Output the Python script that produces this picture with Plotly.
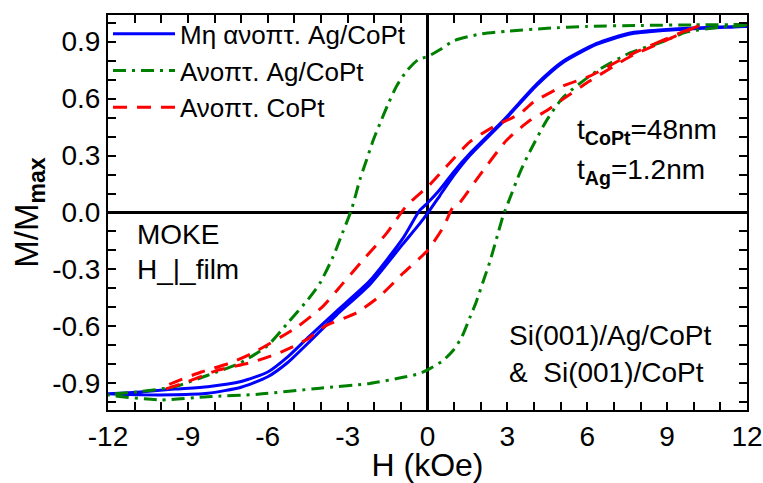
import plotly.graph_objects as go

# ---- data ----
# Non-annealed Ag/CoPt (blue): descending and ascending branches
blue_H_down = [12, 10, 8.84, 7.6, 6.35, 5.09, 4.09, 2.84, 1.59, 0.96, 0.46, 0, -0.3, -0.92, -2.17, -3.42, -4.5, -5.25, -6, -7, -8.25, -9.5, -10.8, -12]
blue_M_down = [0.98, 0.972, 0.962, 0.945, 0.89, 0.796, 0.675, 0.484, 0.31, 0.21, 0.12, 0.05, 0.01, -0.135, -0.36, -0.52, -0.66, -0.76, -0.84, -0.89, -0.917, -0.93, -0.945, -0.955]
blue_H_up = [-12, -10.8, -9.5, -8.25, -7, -6, -5.25, -4.5, -3.42, -2.17, -0.92, -0.3, 0, 0.46, 0.96, 1.59, 2.84, 4.09, 5.09, 6.35, 7.6, 8.84, 10, 12]
blue_M_up = [-0.955, -0.96, -0.96, -0.952, -0.92, -0.865, -0.79, -0.69, -0.54, -0.38, -0.165, -0.06, -0.005, 0.088, 0.19, 0.30, 0.478, 0.668, 0.79, 0.885, 0.94, 0.958, 0.968, 0.98]

# Annealed Ag/CoPt (green)
green_H_down = [12, 10, 8, 6, 4.5, 3, 2, 1, 0.46, 0.02, -0.35, -0.79, -1.16, -1.48, -1.79, -2.04, -2.29, -2.54, -2.85, -3.2, -3.55, -4.04, -4.5, -5.24, -6.0, -7.0, -8.25, -9.5, -10.77, -12]
green_M_down = [0.99, 0.988, 0.985, 0.98, 0.97, 0.955, 0.94, 0.905, 0.857, 0.822, 0.805, 0.744, 0.666, 0.571, 0.467, 0.38, 0.277, 0.173, 0.017, -0.11, -0.234, -0.372, -0.46, -0.58, -0.70, -0.79, -0.857, -0.917, -0.943, -0.96]
green_H_up = [-10, -8.25, -6.37, -4.04, -2.17, -0.92, -0.29, 0.09, 0.59, 0.96, 1.28, 1.59, 1.84, 2.09, 2.34, 2.59, 2.84, 3.03, 3.47, 3.84, 4.47, 5.09, 6.35, 7.6, 8.85, 9.72, 11, 12]
green_M_up = [-0.987, -0.97, -0.957, -0.925, -0.90, -0.868, -0.848, -0.822, -0.779, -0.727, -0.658, -0.554, -0.467, -0.363, -0.26, -0.139, -0.017, 0.052, 0.21, 0.32, 0.484, 0.606, 0.744, 0.84, 0.90, 0.95, 0.975, 0.985]

# Annealed CoPt (red)
red_H_down = [10.2, 8.85, 7.6, 6.09, 5.09, 3.97, 3.47, 2.46, 1.59, 0.71, 0.09, -0.79, -1.54, -2.42, -3.17, -3.9, -4.87, -6.5, -7.37, -8.5, -9.75, -9.9]
red_M_down = [0.985, 0.908, 0.83, 0.718, 0.666, 0.58, 0.52, 0.45, 0.372, 0.242, 0.147, 0.035, -0.11, -0.25, -0.372, -0.49, -0.6, -0.735, -0.79, -0.84, -0.909, -0.925]
red_H_up = [-9.9, -9.0, -7.87, -6.62, -5.5, -4.5, -3.87, -2.67, -1.79, -0.92, 0, 0.59, 0.95, 1.21, 1.84, 2.97, 3.84, 4.47, 5.09, 6.09, 7.6, 8.85, 10.2]
red_M_up = [-0.93, -0.89, -0.83, -0.79, -0.735, -0.666, -0.6, -0.528, -0.44, -0.32, -0.2, -0.078, 0.026, 0.052, 0.173, 0.38, 0.484, 0.536, 0.597, 0.692, 0.82, 0.9, 0.985]

names = ["Μη ανοπτ. Ag/CoPt", "Ανοπτ. Ag/CoPt", "Ανοπτ. CoPt"]

x_ticks = [-12, -9, -6, -3, 0, 3, 6, 9, 12]
y_ticks = [-0.9, -0.6, -0.3, 0.0, 0.3, 0.6, 0.9]
y_ticklabels = ["-0.9", "-0.6", "-0.3", "0.0", "0.3", "0.6", "0.9"]

FONT = "Liberation Sans, Arial, Helvetica, sans-serif"

fig = go.Figure()
fig.add_trace(go.Scatter(x=blue_H_down + blue_H_up, y=blue_M_down + blue_M_up, mode="lines",
                         name=names[0], line=dict(color="#0000ff", width=3, shape="spline", smoothing=0.6)))
fig.add_trace(go.Scatter(x=green_H_down + green_H_up, y=green_M_down + green_M_up, mode="lines",
                         name=names[1], line=dict(color="#008000", width=3, dash="13px,6px,3px,6px",
                                                  shape="spline", smoothing=0.6)))
fig.add_trace(go.Scatter(x=red_H_down + red_H_up, y=red_M_down + red_M_up, mode="lines",
                         name=names[2], line=dict(color="#ff0000", width=3, dash="14px,10px",
                                                  shape="spline", smoothing=0.6)))

axis_common = dict(showline=True, linecolor="black", linewidth=2, mirror="allticks",
                   ticks="inside", ticklen=8, tickwidth=2, tickcolor="black",
                   showgrid=False, zeroline=True, zerolinecolor="black", zerolinewidth=2.5,
                   automargin=False, ticklabeloverflow="allow",
                   tickfont=dict(family=FONT, size=28, color="black"))

fig.update_xaxes(range=[-12, 12], tickvals=x_ticks, ticktext=[str(v) for v in x_ticks],
                 minor=dict(dtick=1, ticks="inside", ticklen=8, tickwidth=2, tickcolor="black", showgrid=False),
                 title=dict(text="H (kOe)", font=dict(family=FONT, size=32, color="black"), standoff=2),
                 **axis_common)
fig.update_yaxes(range=[-1.04, 1.04], tickvals=y_ticks, ticktext=y_ticklabels,
                 minor=dict(dtick=0.1, ticks="inside", ticklen=8, tickwidth=2, tickcolor="black", showgrid=False),
                 title=dict(text="M/M<sub><b>max</b></sub>", font=dict(family=FONT, size=33, color="black"), standoff=4),
                 **axis_common)

ann_font = dict(family=FONT, size=28, color="black")
annotations = [
    dict(x=5.53, y=0.426, text="t<sub><b>CoPt</b></sub>=48nm"),
    dict(x=5.53, y=0.218, text="t<sub><b>Ag</b></sub>=1.2nm"),
    dict(x=-10.99, y=-0.115, text="MOKE"),
    dict(x=-10.99, y=-0.30, text="H_|_film"),
    dict(x=2.97, y=-0.65, text="Si(001)/Ag/CoPt"),
    dict(x=2.97, y=-0.84, text="&amp;  Si(001)/CoPt"),
]
for a in annotations:
    fig.add_annotation(xref="x", yref="y", showarrow=False, xanchor="left", yanchor="middle",
                       font=ann_font, **a)

fig.update_layout(
    width=763, height=483,
    margin=dict(l=108, r=16, t=10, b=73),
    paper_bgcolor="white", plot_bgcolor="white",
    font=dict(family=FONT, color="black"),
    legend=dict(x=0, y=1.012, xanchor="left", yanchor="top", bgcolor="rgba(0,0,0,0)",
                font=dict(family=FONT, size=26, color="black"), itemwidth=62,
                tracegroupgap=0),
    showlegend=True,
)

fig.write_html("out.html")
